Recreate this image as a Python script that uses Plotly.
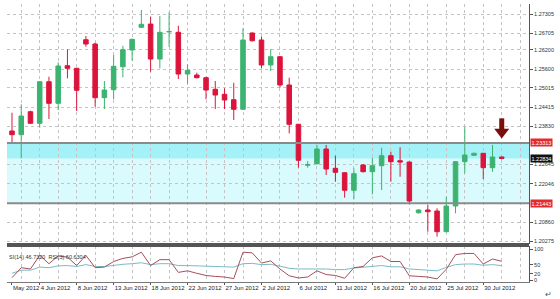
import plotly.graph_objects as go

dates = ["2012-05-31", "2012-06-01", "2012-06-03", "2012-06-04", "2012-06-05", "2012-06-06",
         "2012-06-07", "2012-06-08", "2012-06-10", "2012-06-11", "2012-06-12", "2012-06-13",
         "2012-06-14", "2012-06-15", "2012-06-17", "2012-06-18", "2012-06-19", "2012-06-20",
         "2012-06-21", "2012-06-22", "2012-06-24", "2012-06-25", "2012-06-26", "2012-06-27",
         "2012-06-28", "2012-06-29", "2012-07-01", "2012-07-02", "2012-07-03", "2012-07-04",
         "2012-07-05", "2012-07-06", "2012-07-08", "2012-07-09", "2012-07-10", "2012-07-11",
         "2012-07-12", "2012-07-13", "2012-07-15", "2012-07-16", "2012-07-17", "2012-07-18",
         "2012-07-19", "2012-07-20", "2012-07-22", "2012-07-23", "2012-07-24", "2012-07-25",
         "2012-07-26", "2012-07-27", "2012-07-29", "2012-07-30", "2012-07-31", "2012-08-01"]

open_ = [1.23682, 1.23567, 1.24279, 1.23920, 1.25208, 1.24539, 1.25704, 1.25623, 1.26509, 1.26376,
         1.24713, 1.24961, 1.25673, 1.26190, 1.26893, 1.26995, 1.25911, 1.26755, 1.26738, 1.25447,
         1.25416, 1.25332, 1.24973, 1.24818, 1.24651, 1.24354, 1.26717, 1.26500, 1.25726, 1.25983,
         1.25106, 1.23889, 1.22620, 1.22669, 1.23124, 1.22526, 1.22390, 1.21845, 1.22629, 1.22421,
         1.22607, 1.22917, 1.22762, 1.22721, 1.21151, 1.21235, 1.21204, 1.20563, 1.21359, 1.22731,
         1.22929, 1.22991, 1.22545, 1.22876]
high = [1.24248, 1.24508, 1.24310, 1.25230, 1.25363, 1.25809, 1.26212, 1.25640, 1.26624, 1.26416,
        1.25230, 1.26035, 1.26323, 1.26540, 1.27429, 1.27221, 1.27243, 1.27358, 1.26943, 1.25747,
        1.25487, 1.25363, 1.25230, 1.25004, 1.25177, 1.26862, 1.26738, 1.26602, 1.26221, 1.26000,
        1.25332, 1.23900, 1.22752, 1.23248, 1.23248, 1.22917, 1.22400, 1.22526, 1.22660, 1.22855,
        1.23164, 1.23040, 1.23177, 1.22740, 1.21265, 1.21390, 1.21288, 1.21647, 1.22750, 1.23815,
        1.23010, 1.23000, 1.23248, 1.22890]
low = [1.23332, 1.22836, 1.23908, 1.23784, 1.24053, 1.24332, 1.25314, 1.24301, 1.26292, 1.24434,
       1.24363, 1.24663, 1.25345, 1.25859, 1.26880, 1.25518, 1.25623, 1.26292, 1.25292, 1.25146,
       1.25314, 1.24663, 1.24363, 1.24363, 1.24022, 1.24340, 1.26447, 1.25623, 1.25540, 1.25023,
       1.23610, 1.22545, 1.22545, 1.22640, 1.22319, 1.22111, 1.21616, 1.21566, 1.22400, 1.21721,
       1.21854, 1.22111, 1.22266, 1.21411, 1.21120, 1.20563, 1.20408, 1.20544, 1.21133, 1.22372,
       1.22910, 1.22195, 1.22421, 1.22800]
close = [1.23567, 1.24146, 1.23920, 1.25208, 1.24539, 1.25695, 1.25623, 1.24942, 1.26376, 1.24713,
         1.24951, 1.25685, 1.26199, 1.26521, 1.26986, 1.25911, 1.26738, 1.26760, 1.25447, 1.25561,
         1.25332, 1.24951, 1.24796, 1.24642, 1.24354, 1.26500, 1.26478, 1.25726, 1.25983, 1.25106,
         1.23889, 1.22774, 1.22645, 1.23124, 1.22505, 1.22402, 1.21845, 1.22359, 1.22421, 1.22607,
         1.22917, 1.22731, 1.22721, 1.21514, 1.21235, 1.21182, 1.20563, 1.21359, 1.22731, 1.22938,
         1.22991, 1.22545, 1.22876, 1.22834]

rsi14 = [22, 32, 32, 42, 40, 46, 47, 44, 50, 44, 44, 48, 51, 53, 56, 50, 53, 53, 47, 47,
         46, 45, 44, 43, 42, 53, 54, 50, 51, 45, 38, 36, 36, 38, 36, 34, 34, 39, 41, 43,
         47, 43, 43, 36, 34, 34, 30, 41, 50, 52, 52, 48, 50, 46.7320]
rsi3 = [8, 40, 36, 80, 53, 78, 74, 47, 80, 40, 42, 60, 70, 75, 90, 47, 66, 66, 25, 30,
        22, 15, 12, 10, 5, 90, 88, 55, 62, 36, 14, 7, 10, 30, 18, 15, 6, 40, 44, 72,
        78, 60, 60, 14, 12, 10, 4, 35, 82, 86, 86, 52, 68, 60.6304]

price_ticks = ["1.27305", "1.26705", "1.26200", "1.25600", "1.25015", "1.24415", "1.23830",
               "1.22645", "1.22046", "1.20860", "1.20275"]
rsi_ticks = ["0", "20", "50", "100"]
label_dates = ["2012-05-31", "2012-06-04", "2012-06-08", "2012-06-13", "2012-06-18", "2012-06-22",
               "2012-06-27", "2012-07-02", "2012-07-06", "2012-07-11", "2012-07-16", "2012-07-20",
               "2012-07-25", "2012-07-30"]
label_text = ["May 2012", "4 Jun 2012", "8 Jun 2012", "13 Jun 2012", "18 Jun 2012", "22 Jun 2012",
              "27 Jun 2012", "2 Jul 2012", "6 Jul 2012", "11 Jul 2012", "16 Jul 2012", "20 Jul 2012",
              "25 Jul 2012", "30 Jul 2012"]

zone_top = 1.23313
zone_mid = 1.22820
zone_bottom = 1.21443
arrow_date = "2012-08-01"
arrow_head = 1.23650
arrow_shaft = 1.23900

xi = list(range(len(dates)))
pos = {d: i for i, d in enumerate(dates)}

RED = "#dc143c"
GREEN = "#3cb371"
FONT = "Liberation Sans, Arial, sans-serif"

fig = go.Figure()
fig.add_trace(go.Candlestick(
    x=xi, open=open_, high=high, low=low, close=close,
    increasing=dict(line=dict(color=GREEN, width=1), fillcolor=GREEN),
    decreasing=dict(line=dict(color=RED, width=1), fillcolor=RED),
    whiskerwidth=0, xaxis="x", yaxis="y", showlegend=False))

fig.add_trace(go.Scatter(x=[pos[arrow_date]], y=[arrow_shaft], mode="markers",
                         marker=dict(symbol="line-ns", size=8, line=dict(color="#7a0e0e", width=5)),
                         xaxis="x", yaxis="y", showlegend=False))
fig.add_trace(go.Scatter(x=[pos[arrow_date]], y=[arrow_head], mode="markers",
                         marker=dict(symbol="triangle-down", size=13, color="#7a0e0e"),
                         xaxis="x", yaxis="y", showlegend=False))

fig.add_trace(go.Scatter(x=xi, y=rsi14, mode="lines", line=dict(color="#79bcc6", width=1),
                         xaxis="x2", yaxis="y2", showlegend=False))
fig.add_trace(go.Scatter(x=xi, y=rsi3, mode="lines", line=dict(color="#a5505a", width=1),
                         xaxis="x2", yaxis="y2", showlegend=False))

xr = [-0.54, 55.95]
main_low = (282 - 244) / 278
rsi_high = (282 - 246) / 278

gridc = "#c4c4c4"
fig.update_layout(
    width=560, height=299,
    margin=dict(l=7, r=31, t=4, b=17, autoexpand=False),
    paper_bgcolor="white", plot_bgcolor="white",
    font=dict(family=FONT, size=6, color="#222"),
    xaxis=dict(domain=[0, 1], range=xr, showticklabels=False, showgrid=False, automargin=False,
               rangeslider=dict(visible=False), zeroline=False,
               minor=dict(tick0=1, dtick=2, showgrid=True, gridcolor=gridc, griddash="dot", gridwidth=1),
               tickvals=[pos[d] for d in label_dates], ticks=""),
    yaxis=dict(domain=[main_low, 1], range=[1.20182, 1.27615], side="right", automargin=False,
               tickvals=[float(t) for t in price_ticks], ticktext=price_ticks,
               showgrid=True, gridcolor=gridc, griddash="dot", gridwidth=1,
               ticks="outside", ticklen=3, tickcolor="#555", tickfont=dict(size=5.5, color="#333"),
               showline=True, linecolor="#555", linewidth=1, zeroline=False),
    xaxis2=dict(domain=[0, 1], range=xr, anchor="y2", automargin=False, tickangle=0,
                tickvals=[pos[d] for d in label_dates], ticktext=label_text,
                ticklabelposition="outside right", ticks="outside", ticklen=2, tickcolor="#555",
                tickfont=dict(size=6, color="#222"), showgrid=False,
                minor=dict(tick0=1, dtick=2, showgrid=True, gridcolor=gridc, griddash="dot", gridwidth=1),
                showline=True, linecolor="#777", linewidth=1, zeroline=False),
    yaxis2=dict(domain=[0, rsi_high], range=[-6, 110], side="right", anchor="x2", automargin=False,
                tickvals=[float(t) for t in rsi_ticks], ticktext=rsi_ticks,
                ticks="outside", ticklen=3, tickcolor="#555", tickfont=dict(size=5.5, color="#333"),
                showgrid=False, showline=True, linecolor="#555", linewidth=1, zeroline=False),
    shapes=[
        dict(type="rect", xref="x domain", x0=0, x1=1, yref="y", y0=zone_mid, y1=zone_top,
             fillcolor="#a4f1f7", line=dict(width=0), layer="below"),
        dict(type="rect", xref="x domain", x0=0, x1=1, yref="y", y0=zone_bottom, y1=zone_mid,
             fillcolor="#d9fbfd", line=dict(width=0), layer="below"),
        dict(type="line", xref="x domain", x0=0, x1=1, yref="y", y0=zone_top, y1=zone_top,
             line=dict(color="#8a8a8a", width=2)),
        dict(type="line", xref="x domain", x0=0, x1=1, yref="y", y0=zone_bottom, y1=zone_bottom,
             line=dict(color="#8a8a8a", width=2)),
        dict(type="line", xref="paper", x0=0, x1=1, yref="paper", y0=main_low, y1=main_low,
             line=dict(color="#555", width=2)),
        dict(type="line", xref="paper", x0=0, x1=1, yref="paper", y0=rsi_high, y1=rsi_high,
             line=dict(color="#555", width=2)),
    ],
    annotations=[
        dict(xref="paper", x=1, yref="y", y=zone_top, text=f"{zone_top:.5f}", showarrow=False,
             xanchor="left", xshift=1, bgcolor="#e42a2a", font=dict(size=5.5, color="white"), borderpad=0.5),
        dict(xref="paper", x=1, yref="y", y=zone_bottom, text=f"{zone_bottom:.5f}", showarrow=False,
             xanchor="left", xshift=1, bgcolor="#e42a2a", font=dict(size=5.5, color="white"), borderpad=0.5),
        dict(xref="paper", x=1, yref="y", y=close[-1], text=f"{close[-1]:.5f}", showarrow=False,
             xanchor="left", xshift=1, bgcolor="#111", font=dict(size=5.5, color="white"), borderpad=0.5),
        dict(xref="paper", x=0, yref="y2 domain", y=1, yanchor="top", xanchor="left", yshift=-6,
             text=f"SI(14) {rsi14[-1]:.4f}  RSI(3) {rsi3[-1]:.4f}", showarrow=False,
             font=dict(size=5.5, color="#333")),
        dict(xref="paper", x=1, yref="paper", y=0, xanchor="left", yanchor="top", xshift=14, yshift=-6,
             text="↵", showarrow=False, font=dict(size=8, color="#555")),
    ],
)

fig.write_html("out.html")
